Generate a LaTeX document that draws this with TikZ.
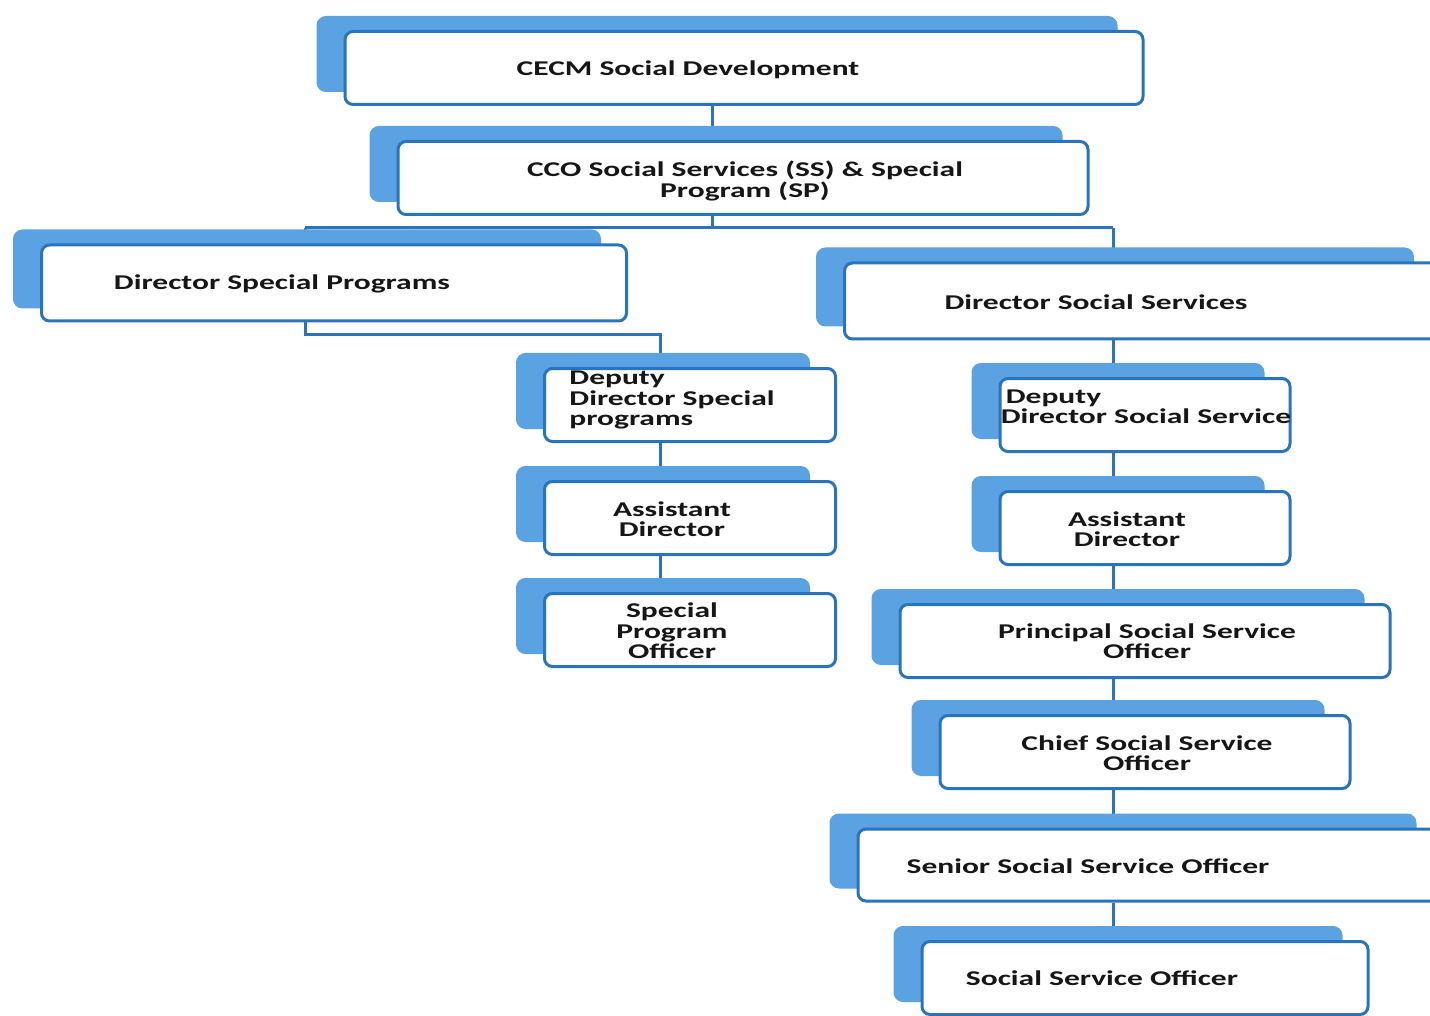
\documentclass[tikz,border=0pt]{standalone}
\usepackage{xcolor}
\usepackage{fontspec}
\usepackage{tikz}
\usetikzlibrary{calc,backgrounds,shadows}
\newfontfamily\postfont[FakeStretch=1.5]{Carlito Bold}
\definecolor{edgeblue}{HTML}{2A74BE}
\definecolor{shadeblue}{HTML}{5AA2E2}
\definecolor{inkgray}{HTML}{161616}
\tikzset{
  post/.style={draw=edgeblue, line width=3pt, rounded corners=8pt, fill=white,
    inner sep=0pt, minimum height=73pt,
    copy shadow={shadow xshift=-27pt, shadow yshift=14pt, fill=shadeblue, draw=shadeblue}},
  tag/.style={font=\postfont\fontsize{21}{20.5}\selectfont, text=inkgray, align=center, inner sep=0pt},
  wire/.style={draw=edgeblue, line width=3pt}
}

\begin{document}
\begin{tikzpicture}[x=1pt, y=-1pt]

\useasboundingbox (0,0) rectangle (1430,1016);

\coordinate (trunk) at (712,228);
\coordinate (busl) at (305,228);
\coordinate (busr) at (1113,228);
\coordinate (elbow) at (660,335);
\coordinate (spine) at (1113,228);

% top of the chart
\node[post, minimum width=798pt, label={[tag,xshift=-56pt,yshift=-2pt]center:CECM Social Development}] (cecm) at (744,68) {};
\node[post, minimum width=690pt, label={[tag,xshift=2pt,yshift=-3pt]center:{CCO Social Services (SS) \& Special\\Program (SP)}}] (cco) at (743,178) {};

% special programs
\node[post, minimum width=585pt, minimum height=76pt, label={[tag,xshift=-52pt,yshift=-1pt]center:Director Special Programs}] (dsp) at (334,283) {};
\node[post, minimum width=291pt, label={[tag,align=left,xshift=-18pt,yshift=5pt]center:{Deputy\\Director Special\\programs}}] (ddsp) at (690,405) {};
\node[post, minimum width=291pt, label={[tag,xshift=-18pt,yshift=-1pt]center:{Assistant\\Director}}] (adl) at (690,518) {};
\node[post, minimum width=291pt, label={[tag,xshift=-18pt,yshift=-1pt]center:{Special\\Program\\Officer}}] (spo) at (690,630) {};

% social services
\node[post, minimum width=595pt, minimum height=76pt, label={[tag,xshift=-46pt,yshift=-1pt]center:Director Social Services}] (dss) at (1142,301) {};
\node[post, minimum width=290pt, label={[tag,align=left,xshift=1pt,yshift=8pt]center:{\hspace*{5pt}Deputy\\Director Social Service}}] (ddss) at (1145,415) {};
\node[post, minimum width=290pt, label={[tag,xshift=-18pt,yshift=-1pt]center:{Assistant\\Director}}] (adr) at (1145,528) {};
\node[post, minimum width=490pt, label={[tag,xshift=2pt]center:{Principal Social Service\\Officer}}] (psso) at (1145,641) {};
\node[post, minimum width=410pt, label={[tag,xshift=2pt,yshift=-1pt]center:{Chief Social Service\\Officer}}] (csso) at (1145,752) {};
\node[post, minimum width=584pt, minimum height=72pt, label={[tag,xshift=-62pt,yshift=-1pt]center:Senior Social Service Officer}] (ssso) at (1150,865) {};
\node[post, minimum width=446pt, label={[tag,xshift=-43pt]center:Social Service Officer}] (sso) at (1145,978) {};

\begin{scope}[on background layer]
\fill[white] (0,0) rectangle (1430,1016);
\draw[wire] (cecm.south -| trunk) -- (cco.north -| trunk);
\draw[wire] (cco.south -| trunk) -- (trunk);
\draw[wire] (busl) -- (busr);
\draw[wire] (busl) -- (dsp.north -| busl);
\draw[wire] (busr) -- (dss.north -| busr);
\draw[wire] (dsp.south -| busl) |- (elbow) -- (ddsp.north -| elbow);
\draw[wire] (ddsp.south -| elbow) -- (adl.north -| elbow);
\draw[wire] (adl.south -| elbow) -- (spo.north -| elbow);
\draw[wire] (dss.south -| spine) -- (ddss.north -| spine);
\draw[wire] (ddss.south -| spine) -- (adr.north -| spine);
\draw[wire] (adr.south -| spine) -- (psso.north -| spine);
\draw[wire] (psso.south -| spine) -- (csso.north -| spine);
\draw[wire] (csso.south -| spine) -- (ssso.north -| spine);
\draw[wire] (ssso.south -| spine) -- (sso.north -| spine);
\end{scope}

\end{tikzpicture}
\end{document}
